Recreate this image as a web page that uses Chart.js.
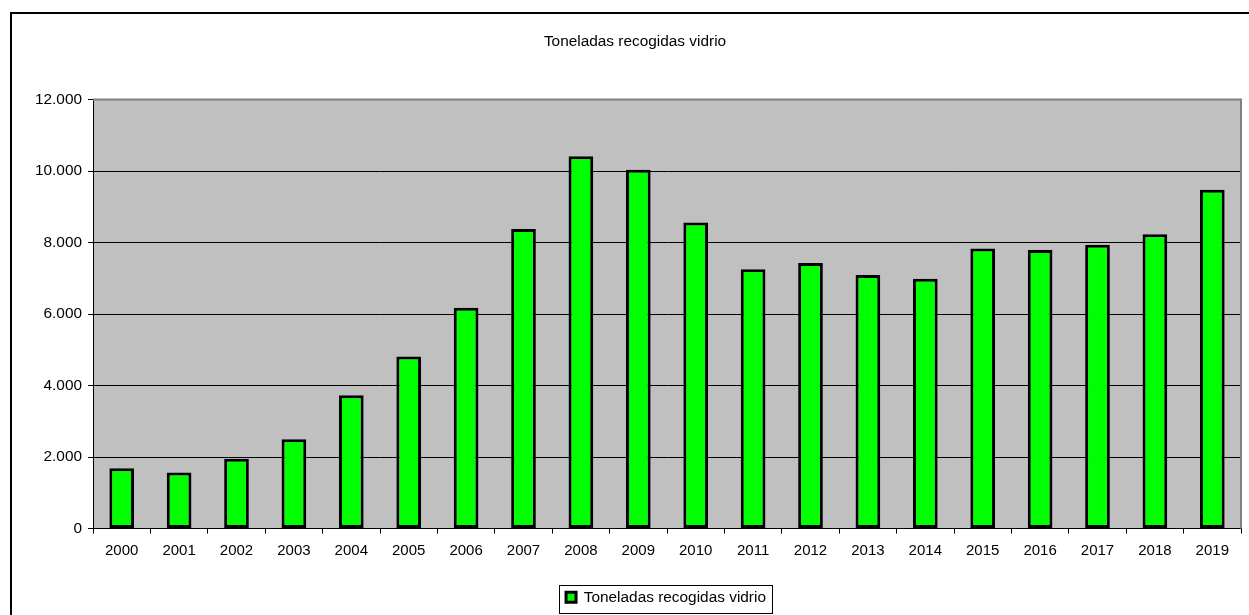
<!DOCTYPE html>
<html>
<head>
<meta charset="utf-8">
<script src="https://cdn.jsdelivr.net/npm/chart.js@4.4.1/dist/chart.umd.min.js"></script>
<style>
    html, body { margin: 0; padding: 0; background: #fff; }
    #wrap { width: 1249px; height: 615px; }
</style>
</head>
<body>
<div id="wrap"><canvas id="myChart" width="1249" height="615"></canvas></div>
<script>
// data
var years = ["2000", "2001", "2002", "2003", "2004", "2005", "2006", "2007", "2008", "2009",
    "2010", "2011", "2012", "2013", "2014", "2015", "2016", "2017", "2018", "2019"];
var toneladas = [1690, 1570, 1955, 2500, 3730, 4815, 6175, 8380, 10410, 10035,
    8560, 7250, 7430, 7090, 6990, 7830, 7790, 7940, 8230, 9475];
var yTicks = [0, 2000, 4000, 6000, 8000, 10000, 12000];
var seriesName = "Toneladas recogidas vidrio";
var chartTitle = "Toneladas recogidas vidrio";

// grey plot area, outer frame and a box round the legend
var frame = {
    id: 'frame',
    afterLayout: function (chart) {
        // legend sits a bit right of the title in the original
        var lg = chart.legend;
        if (lg) { lg.left += 31; lg.right += 31; }
    },
    beforeDraw: function (chart) {
        var ctx = chart.ctx, a = chart.chartArea;
        ctx.save();
        ctx.fillStyle = '#fff';
        ctx.fillRect(0, 0, chart.width, chart.height);
        ctx.fillStyle = '#c0c0c0';
        ctx.fillRect(a.left, a.top, a.right - a.left, a.bottom - a.top);
        ctx.strokeStyle = '#000';
        ctx.lineWidth = 2;
        ctx.beginPath();
        ctx.moveTo(11, chart.height + 5);
        ctx.lineTo(11, 13);
        ctx.lineTo(chart.width + 5, 13);
        ctx.stroke();
        ctx.restore();
    },
    beforeDatasetsDraw: function (chart) {
        var ctx = chart.ctx, a = chart.chartArea;
        ctx.save();
        ctx.strokeStyle = '#808080';
        ctx.lineWidth = 2;
        ctx.beginPath();
        ctx.moveTo(a.left, a.top);
        ctx.lineTo(a.right, a.top);
        ctx.lineTo(a.right, a.bottom);
        ctx.stroke();
        ctx.restore();
    },
    afterDraw: function (chart) {
        var lg = chart.legend;
        if (!lg || !lg.legendHitBoxes || !lg.legendHitBoxes.length) return;
        var hb = lg.legendHitBoxes[0], ctx = chart.ctx;
        ctx.save();
        ctx.strokeStyle = '#000';
        ctx.lineWidth = 1;
        ctx.strokeRect(Math.round(hb.left) - 6.5, 585.5, Math.round(hb.width) + 13, 28);
        ctx.restore();
    }
};

Chart.defaults.font.family = "'Liberation Sans', Arial, sans-serif";
Chart.defaults.color = '#000';

new Chart("myChart", {
    type: "bar",
    data: {
        labels: years,
        datasets: [{
            label: seriesName,
            data: toneladas,
            backgroundColor: "#00ff00",
            borderColor: "#000",
            borderWidth: 3,
            borderSkipped: false,
            barPercentage: 0.43,
            categoryPercentage: 1
        }]
    },
    plugins: [frame],
    options: {
        responsive: false,
        animation: false,
        devicePixelRatio: 1,
        layout: { padding: { left: 29, right: 8, top: 0, bottom: 0 } },
        plugins: {
            title: {
                display: true,
                text: chartTitle,
                font: { size: 15.4, weight: 'normal' },
                padding: { top: 33, bottom: 48 }
            },
            legend: {
                display: true,
                position: 'bottom',
                labels: {
                    boxWidth: 10,
                    boxHeight: 10,
                    font: { size: 15.4 },
                    padding: 8
                }
            },
            tooltip: { enabled: false }
        },
        scales: {
            x: {
                grid: {
                    offset: true,
                    drawOnChartArea: false,
                    drawTicks: true,
                    tickLength: 5,
                    color: '#000'
                },
                border: { color: '#000', width: 1 },
                ticks: { font: { size: 15 }, padding: 8, maxRotation: 0, autoSkip: false },
                afterFit: function (s) { s.height = 53; }
            },
            y: {
                min: 0,
                max: 12000,
                afterBuildTicks: function (s) {
                    s.ticks = yTicks.map(function (v) { return { value: v }; });
                },
                grid: { color: '#000', tickLength: 5, lineWidth: 1 },
                border: { color: '#000', width: 1 },
                ticks: {
                    font: { size: 15.4 },
                    padding: 6,
                    callback: function (v) { return v.toLocaleString('de-DE'); }
                },
                afterFit: function (s) { s.width = 64; }
            }
        }
    }
});
</script>
</body>
</html>
